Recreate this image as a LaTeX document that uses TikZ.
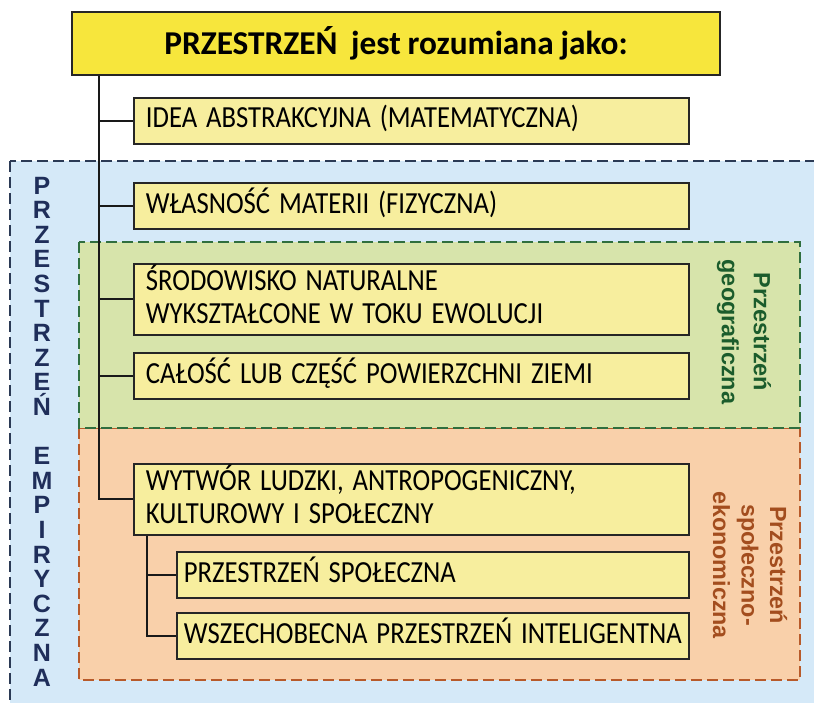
\documentclass[tikz,border=0pt]{standalone}
\usepackage{fontspec}
\usepackage{graphicx}
\setmainfont{Carlito}[WordSpace=0.9]
\newfontfamily\labfont{Liberation Sans}
\newcommand{\bxtext}[1]{\scalebox{0.87}[1]{\begin{tabular}{@{}l@{}}#1\end{tabular}}}
\definecolor{titleyellow}{HTML}{F7E63C}
\definecolor{boxyellow}{HTML}{F7EE9E}
\definecolor{bluebg}{HTML}{D5E9F8}
\definecolor{greenbg}{HTML}{D7E4AB}
\definecolor{orangebg}{HTML}{F9D0AA}
\definecolor{navytext}{HTML}{1F2E5A}
\definecolor{greentext}{HTML}{1B5C2C}
\definecolor{browntext}{HTML}{A34D1E}
\definecolor{blueborder}{HTML}{2B3A55}
\definecolor{greenborder}{HTML}{2F6E3E}
\definecolor{orangeborder}{HTML}{B85A2A}
\begin{document}
\begin{tikzpicture}[x=0.75pt,y=-0.75pt,
  zone/.style={line width=1.4pt,dash pattern=on 8pt off 4pt},
  bluezone/.style={zone,draw=blueborder,fill=bluebg},
  greenzone/.style={zone,draw=greenborder,fill=greenbg},
  orangezone/.style={zone,draw=orangeborder,fill=orangebg},
  titlebox/.style={draw=black!85,line width=1.4pt,fill=titleyellow,minimum width=486pt,minimum height=47.25pt,inner sep=0pt,font=\fontsize{25}{30}\selectfont\bfseries},
  itembox/.style={draw=black!85,line width=1.4pt,fill=boxyellow,anchor=north west,inner ysep=0pt,align=left,font=\fontsize{23}{24.75}\selectfont},
  widebox/.style={itembox,inner xsep=9pt,text width=398.25pt,minimum width=416.25pt},
  subbox/.style={itembox,inner xsep=5.25pt,text width=373.5pt,minimum width=384pt},
  onel/.style={minimum height=34.5pt},
  twol/.style={minimum height=53pt},
  conn/.style={draw=black!90,line width=1.5pt},
  sidelabel/.style={align=center,rotate=-90,font=\labfont\bfseries},
]
\useasboundingbox (0,0) rectangle (814,703);
\clip (0,0) rectangle (814,703);
\fill[white] (0,0) rectangle (814,703);
% zones
\draw[bluezone] (10,161) rectangle (850,740);
\draw[orangezone] (79,428) rectangle (800,680);
\draw[greenzone] (79,242) rectangle (800,428);
% title
\node[titlebox] (title) at (396,43.5) {PRZESTRZEŃ\ \ jest rozumiana jako:};
% boxes
\node[widebox,onel] (idea) at (133,97) {\bxtext{IDEA ABSTRAKCYJNA (MATEMATYCZNA)}};
\node[widebox,onel] (wlasn) at (133,182) {\bxtext{WŁASNOŚĆ MATERII (FIZYCZNA)}};
\node[widebox,twol] (srod) at (133,263) {\bxtext{ŚRODOWISKO NATURALNE\\WYKSZTAŁCONE W TOKU EWOLUCJI}};
\node[widebox,onel] (calosc) at (133,352) {\bxtext{CAŁOŚĆ LUB CZĘŚĆ POWIERZCHNI ZIEMI}};
\node[widebox,twol] (wytwor) at (133,463) {\bxtext{WYTWÓR LUDZKI, ANTROPOGENICZNY,\\KULTUROWY I SPOŁECZNY}};
\node[subbox,onel] (spol) at (176,551) {\bxtext{PRZESTRZEŃ SPOŁECZNA}};
\node[subbox,onel] (wszech) at (176,612) {\bxtext{WSZECHOBECNA PRZESTRZEŃ INTELIGENTNA}};
% connectors
\draw[conn] ([xshift=21pt]title.south west) |- (wytwor.west);
\foreach \b in {idea,wlasn,srod,calosc}{\draw[conn] (\b.west) -- ++(-33,0);}
\draw[conn] ([xshift=10.5pt]wytwor.south west) |- (wszech.west);
\draw[conn] (spol.west) -- ++(-29,0);
% side labels
\node[align=center,inner sep=0pt,text=navytext,font=\labfont\bfseries\fontsize{18.75}{18.45}\selectfont] (empir) at (42,431.5)
  {P\\R\\Z\\E\\S\\T\\R\\Z\\E\\Ń\\[18.45pt]E\\M\\P\\I\\R\\Y\\C\\Z\\N\\A};
\node[sidelabel,text=greentext,font=\labfont\bfseries\fontsize{17.6}{24}\selectfont] (geo) at (744,332) {Przestrzeń\\geograficzna};
\node[sidelabel,text=browntext,font=\labfont\bfseries\fontsize{17.5}{21.4}\selectfont] (eko) at (750,565) {Przestrzeń\\społeczno-\\ekonomiczna};
\end{tikzpicture}
\end{document}
